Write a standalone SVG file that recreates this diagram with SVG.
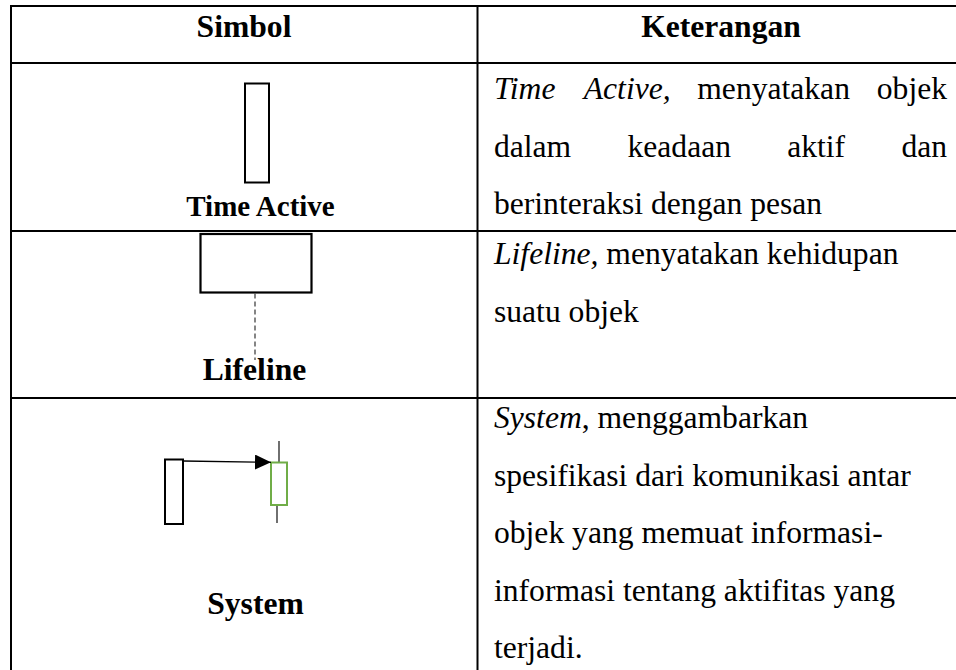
<svg xmlns="http://www.w3.org/2000/svg" width="956" height="670" viewBox="0 0 956 670">
  <style>
    .grid { stroke: #000; stroke-width: 2; fill: none; }
    .th { font-family: "Liberation Serif", "Times New Roman", serif; font-weight: bold; font-size: 31.6px; fill: #000; text-anchor: middle; }
    .lbl { font-family: "Liberation Serif", "Times New Roman", serif; font-weight: bold; font-size: 31.6px; fill: #000; text-anchor: middle; }
    .td { font-family: "Liberation Serif", "Times New Roman", serif; font-size: 31.6px; fill: #000; }
    .it { font-style: italic; }
    .end { text-anchor: end; }
    .box { fill: #fff; stroke: #000; stroke-width: 2; }
    .green { fill: #fff; stroke: #70AD47; stroke-width: 2; }
    .life { stroke: #222; stroke-width: 1.3; fill: none; }
    .dash { stroke: #444; stroke-width: 1.3; stroke-dasharray: 5 3; fill: none; }
    .msg { stroke: #000; stroke-width: 1.3; fill: none; }
  </style>
  <defs>
    <marker id="arrowFilled" markerUnits="userSpaceOnUse" markerWidth="16" markerHeight="15" viewBox="0 0 16 15" refX="16" refY="7.5" orient="auto">
      <path d="M0,0 L16,7.5 L0,15 Z" fill="#000"/>
    </marker>
  </defs>
  <rect width="956" height="670" fill="#fff"/>

  <g id="table-grid">
    <line class="grid" x1="10" y1="6" x2="966" y2="6"/>
    <line class="grid" x1="10" y1="63" x2="966" y2="63"/>
    <line class="grid" x1="10" y1="231" x2="966" y2="231"/>
    <line class="grid" x1="10" y1="398" x2="966" y2="398"/>
    <line class="grid" x1="11" y1="5" x2="11" y2="680"/>
    <line class="grid" x1="477.5" y1="5" x2="477.5" y2="680"/>
  </g>

  <g id="header">
    <text class="th" x="244" y="37">Simbol</text>
    <text class="th" x="721" y="37">Keterangan</text>
  </g>

  <g id="time-active-symbol">
    <rect class="box" x="245" y="83.5" width="24" height="99"/>
    <text class="lbl" x="260.5" y="216" style="font-size:29px">Time Active</text>
  </g>
  <g id="time-active-desc">
    <text class="td it" x="494" y="99">Time</text>
    <text class="td it" x="583.8" y="99">Active,</text>
    <text class="td" x="697.3" y="99">menyatakan</text>
    <text class="td end" x="947" y="99">objek</text>
    <text class="td" x="494" y="156.5">dalam</text>
    <text class="td" x="627.5" y="156.5">keadaan</text>
    <text class="td" x="787.2" y="156.5">aktif</text>
    <text class="td end" x="947" y="156.5">dan</text>
    <text class="td" x="494" y="214">berinteraksi dengan pesan</text>
  </g>

  <g id="lifeline-symbol">
    <rect class="box" x="200.5" y="234" width="111" height="58.5" style="stroke-width:2.2"/>
    <line class="dash" x1="255" y1="293.5" x2="255" y2="360"/>
    <text class="lbl" x="254.5" y="380">Lifeline</text>
  </g>
  <g id="lifeline-desc">
    <text class="td" x="494" y="264"><tspan class="it">Lifeline,</tspan> menyatakan kehidupan</text>
    <text class="td" x="494" y="321.5">suatu objek</text>
  </g>

  <g id="system-symbol">
    <rect id="system-sender" class="box" x="165" y="459.5" width="18" height="64.5"/>
    <line class="life" x1="279" y1="441" x2="279" y2="462.5"/>
    <line class="life" x1="277" y1="505" x2="277" y2="523"/>
    <rect id="system-receiver" class="green" x="271" y="462.5" width="16" height="42.5"/>
    <text class="lbl" x="255.5" y="614">System</text>
  </g>
  <g id="connectors">
    <line class="msg" x1="183.5" y1="461" x2="271" y2="462.3" marker-end="url(#arrowFilled)"/>
  </g>
  <g id="system-desc">
    <text class="td" x="494" y="428"><tspan class="it">System</tspan>, menggambarkan</text>
    <text class="td" x="494" y="485.5">spesifikasi dari komunikasi antar</text>
    <text class="td" x="494" y="543">objek yang memuat informasi-</text>
    <text class="td" x="494" y="600.5">informasi tentang aktifitas yang</text>
    <text class="td" x="494" y="658">terjadi.</text>
  </g>
</svg>
